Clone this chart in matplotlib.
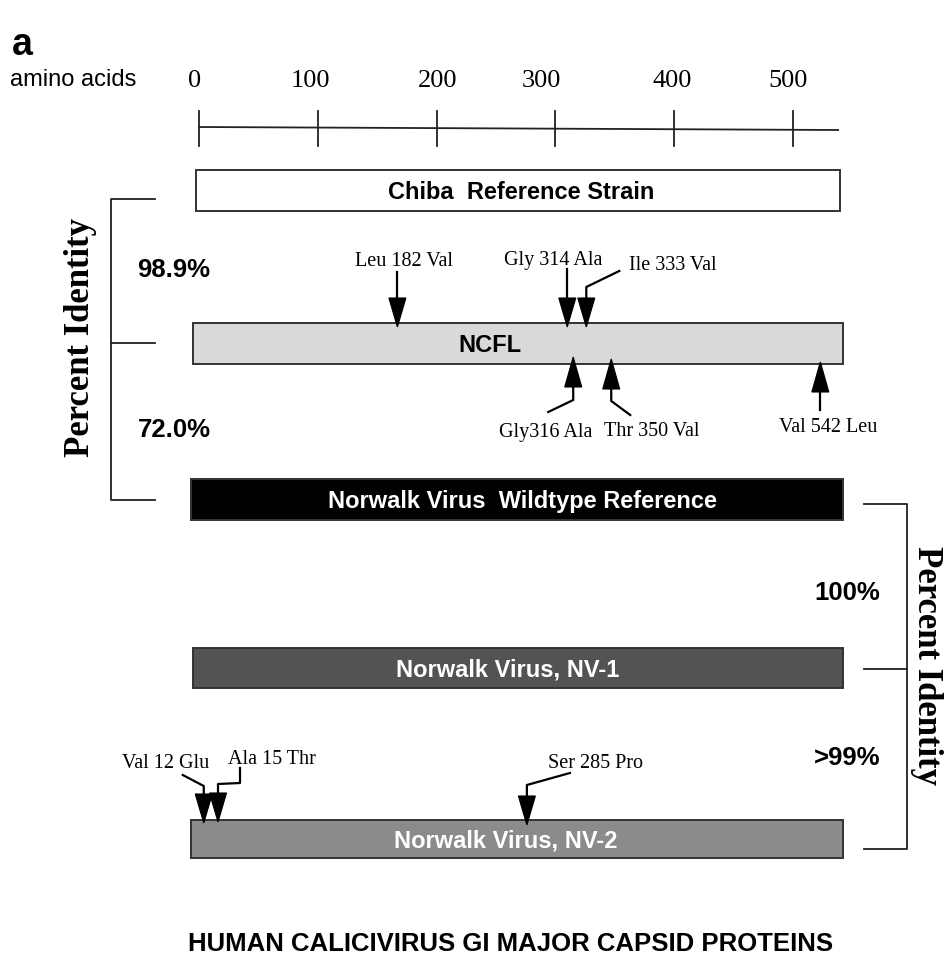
import matplotlib
matplotlib.use("Agg")
import matplotlib.pyplot as plt
from matplotlib.patches import Rectangle, Polygon

# ---- data -------------------------------------------------------------
AXIS_TICKS = [0, 100, 200, 300, 400, 500]
AXIS_END = 538                                   # aa, right end of ruler

STRAINS = ["Chiba  Reference Strain", "NCFL", "Norwalk Virus  Wildtype Reference",
           "Norwalk Virus, NV-1", "Norwalk Virus, NV-2"]
BAR_START = [-2.5, -5, -7, -5, -7]               # aa
BAR_END = [539.5, 542, 542, 542, 542]            # aa
BAR_FILL = ["white", "#d9d9d9", "black", "#535353", "#8b8b8b"]
BAR_TEXT = ["black", "black", "white", "white", "white"]

# mutations, drawn position on the aa scale
NCFL_UP_LABELS = ["Leu 182 Val", "Gly 314 Ala", "Ile 333 Val"]
NCFL_UP_POS = [167, 310, 326]
NCFL_DN_LABELS = ["Gly316 Ala", "Thr 350 Val", "Val 542 Leu"]
NCFL_DN_POS = [315, 347, 523]
NV2_LABELS = ["Val 12 Glu", "Ala 15 Thr", "Ser 285 Pro"]
NV2_POS = [4, 16, 276]

LEFT_IDENT = ["98.9%", "72.0%"]
RIGHT_IDENT = ["100%", ">99%"]

# ---- layout (pixels from top-left, 945 x 967 canvas) ------------------
W, H = 945, 967
X0, PX_PER_AA = 199, 1.188
BAR_TOP = [170, 323, 479, 648, 820]
BAR_H = [41, 41, 41, 40, 38]
BAR_TEXT_X = [521, 490, 523, 508, 506]

SANS = ["Liberation Sans", "DejaVu Sans"]
SERIF = ["Liberation Serif", "DejaVu Serif"]

fig = plt.figure(figsize=(W / 100, H / 100), dpi=100)
ax = fig.add_axes([0, 0, 1, 1])
ax.set_xlim(-X0 / PX_PER_AA, (W - X0) / PX_PER_AA)
ax.set_ylim(H, 0)
ax.axis("off")


def px(x):
    """pixel column -> aa data coordinate (layout helper)"""
    return (x - X0) / PX_PER_AA


def dx(d):
    return d / PX_PER_AA


# panel letter and ruler
ax.text(px(12), 45, "a", fontsize=27, fontweight="bold", family=SANS, va="center")
ax.text(px(10), 80, "amino acids", fontsize=17, family=SANS, va="center")
ax.plot([0, AXIS_END], [127, 130], color="#222", lw=1.3)
label_shift = [-4, -7, 1, -14, -2, -5]           # labels sit a little off their ticks
for t, s in zip(AXIS_TICKS, label_shift):
    ax.plot([t, t], [111, 146], color="#222", lw=1.3)
    ax.text(t + dx(s), 81, str(t), fontsize=19, family=SERIF, ha="center", va="center")

# strain bars
for name, x0, x1, top, h, fc, tc, tx in zip(STRAINS, BAR_START, BAR_END, BAR_TOP, BAR_H,
                                            BAR_FILL, BAR_TEXT, BAR_TEXT_X):
    ax.add_patch(Rectangle((x0, top), x1 - x0, h, facecolor=fc, edgecolor="#333",
                           lw=1.4, zorder=2))
    ax.text(px(tx), top + h / 2 + 2, name, fontsize=17, fontweight="bold", family=SANS,
            color=tc, ha="center", va="center", zorder=4)


def arrow(pos, tip_y, head, leader, label, label_off):
    """pos in aa; tip_y, head length, leader offsets and label offset in px"""
    sgn = -1 if head > 0 else 1
    base_y = tip_y + sgn * abs(head)
    hw = dx(8.5)
    ax.add_patch(Polygon([(pos - hw, base_y), (pos + hw, base_y), (pos, tip_y)],
                         closed=True, facecolor="black", edgecolor="black", lw=0.8,
                         zorder=5))
    xs = [pos] + [pos + dx(a) for a, b in leader]
    ys = [base_y] + [base_y + b for a, b in leader]
    ax.plot(xs, ys, color="black", lw=1.6, zorder=5)
    ax.text(pos + dx(label_off[0]), base_y + label_off[1], label, fontsize=14.5,
            family=SERIF, ha="center", va="center")


ncfl_top, ncfl_bot = BAR_TOP[1], BAR_TOP[1] + BAR_H[1]
up_leaders = [[(0, -26)], [(0, -29)], [(0, -11), (33, -27)]]
up_labels = [(7, -37), (-14, -38), (87, -33)]
for p, lab, ld, lo in zip(NCFL_UP_POS, NCFL_UP_LABELS, up_leaders, up_labels):
    arrow(p, ncfl_top + 4, 29, ld, lab, lo)

dn_leaders = [[(0, 13), (-25, 25)], [(0, 12), (19, 26)], [(0, 18)]]
dn_labels = [(-28, 45), (41, 43), (8, 35)]
dn_tips = [ncfl_bot - 7, ncfl_bot - 5, ncfl_bot - 2]
for p, lab, ld, lo, ty in zip(NCFL_DN_POS, NCFL_DN_LABELS, dn_leaders, dn_labels, dn_tips):
    arrow(p, ty, -30, ld, lab, lo)

nv2_top = BAR_TOP[4]
nv2_leaders = [[(0, -8), (-21, -19)], [(0, -9), (22, -10), (22, -25)],
               [(0, -11), (43, -23)]]
nv2_labels = [(-38, -31), (54, -33), (69, -33)]
nv2_tips = [nv2_top + 3, nv2_top + 2, nv2_top + 5]
for p, lab, ld, lo, ty in zip(NV2_POS, NV2_LABELS, nv2_leaders, nv2_labels, nv2_tips):
    arrow(p, ty, 29, ld, lab, lo)

# identity brackets
lx = px(111)
ax.plot([px(155), lx, lx, px(155)], [199, 199, 500, 500], color="#222", lw=1.3)
ax.plot([lx, px(155)], [343, 343], color="#222", lw=1.3)
ax.text(px(80), 337, "Percent Identity", rotation=90, fontsize=25, fontweight="bold",
        family=SERIF, ha="center", va="center")
for txt, y in zip(LEFT_IDENT, [270, 430]):
    ax.text(px(174), y, txt, fontsize=18.5, fontweight="bold", family=SANS,
            ha="center", va="center")

rx = px(907)
ax.plot([px(864), rx, rx, px(864)], [504, 504, 849, 849], color="#222", lw=1.3)
ax.plot([px(864), rx], [669, 669], color="#222", lw=1.3)
ax.text(px(927), 666, "Percent Identity", rotation=-90, fontsize=25, fontweight="bold",
        family=SERIF, ha="center", va="center")
for txt, y in zip(RIGHT_IDENT, [593, 758]):
    ax.text(px(847), y, txt, fontsize=18.5, fontweight="bold", family=SANS,
            ha="center", va="center")

ax.text(px(511), 944, "HUMAN CALICIVIRUS GI MAJOR CAPSID PROTEINS", fontsize=18.5,
        fontweight="bold", family=SANS, ha="center", va="center")

fig.savefig("out.png", dpi=100, facecolor="white")
